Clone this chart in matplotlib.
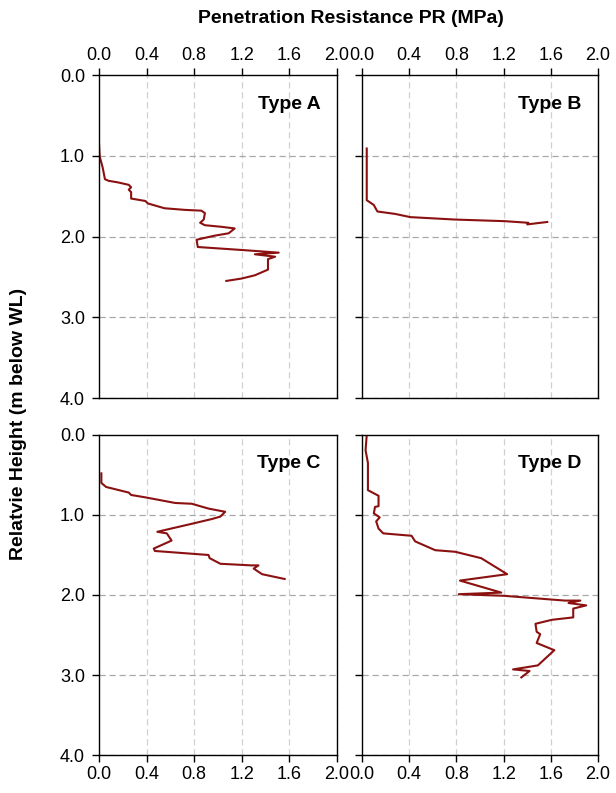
import matplotlib
matplotlib.use("Agg")
import matplotlib.pyplot as plt

plt.rcParams['font.family'] = ['Liberation Sans', 'DejaVu Sans']

# Penetration resistance (MPa) vs depth (m below WL)
a_pr = [0.00, 0.006, 0.03, 0.05, 0.08, 0.16, 0.25, 0.27, 0.25, 0.27, 0.27, 0.39, 0.41, 0.55,
        0.72, 0.86, 0.89, 0.88, 0.85, 0.89, 1.03, 1.14, 1.09, 0.97, 0.82, 0.83, 1.23, 1.51,
        1.31, 1.48, 1.42, 1.42, 1.31, 1.20, 1.07]
a_depth = [0.85, 1.01, 1.14, 1.29, 1.31, 1.33, 1.36, 1.39, 1.42, 1.45, 1.53, 1.56, 1.59, 1.65,
           1.67, 1.68, 1.71, 1.79, 1.83, 1.86, 1.88, 1.90, 1.96, 1.99, 2.04, 2.13, 2.17, 2.20,
           2.22, 2.25, 2.28, 2.41, 2.48, 2.52, 2.55]

b_pr = [0.04, 0.04, 0.04, 0.10, 0.13, 0.28, 0.41, 0.79, 1.21, 1.41, 1.40, 1.57]
b_depth = [0.91, 1.01, 1.55, 1.61, 1.69, 1.72, 1.76, 1.79, 1.81, 1.83, 1.85, 1.82]

c_pr = [0.02, 0.02, 0.06, 0.25, 0.27, 0.39, 0.64, 0.78, 0.92, 1.06, 1.02, 0.95, 0.78, 0.49,
        0.57, 0.61, 0.46, 0.47, 0.92, 0.93, 1.02, 1.28, 1.34, 1.30, 1.37, 1.56]
c_depth = [0.48, 0.60, 0.65, 0.72, 0.75, 0.78, 0.85, 0.86, 0.92, 0.96, 1.02, 1.05, 1.11, 1.21,
           1.23, 1.32, 1.42, 1.45, 1.50, 1.54, 1.61, 1.63, 1.63, 1.67, 1.74, 1.80]

d_pr = [0.04, 0.03, 0.05, 0.05, 0.14, 0.14, 0.11, 0.10, 0.15, 0.12, 0.14, 0.18, 0.42, 0.45,
        0.62, 0.79, 1.01, 1.23, 0.83, 1.18, 0.82, 1.20, 1.72, 1.85, 1.75, 1.90, 1.79, 1.79,
        1.61, 1.47, 1.48, 1.51, 1.48, 1.63, 1.49, 1.28, 1.42, 1.35]
d_depth = [0.00, 0.19, 0.35, 0.69, 0.76, 0.89, 0.90, 0.98, 1.03, 1.08, 1.17, 1.23, 1.26, 1.33,
           1.44, 1.46, 1.54, 1.74, 1.82, 1.97, 1.99, 2.01, 2.07, 2.07, 2.10, 2.13, 2.17, 2.28,
           2.31, 2.36, 2.46, 2.49, 2.60, 2.69, 2.88, 2.93, 2.95, 3.03]

panels = [
    ("Type A", a_pr, a_depth),
    ("Type B", b_pr, b_depth),
    ("Type C", c_pr, c_depth),
    ("Type D", d_pr, d_depth),
]

x_ticks = [0.0, 0.4, 0.8, 1.2, 1.6, 2.0]
y_ticks = [0.0, 1.0, 2.0, 3.0, 4.0]

fig = plt.figure(figsize=(6.16, 7.93), dpi=100)

# axes boxes in figure fraction
positions = [
    [0.1607, 0.4981, 0.3864, 0.4073],
    [0.5877, 0.4981, 0.3831, 0.4073],
    [0.1607, 0.0479, 0.3864, 0.4036],
    [0.5877, 0.0479, 0.3831, 0.4036],
]

line_color = "#8b1111"

for i, (name, pr, depth) in enumerate(panels):
    ax = fig.add_axes(positions[i])
    ax.plot(pr, depth, color=line_color, lw=1.5)
    ax.set_xlim(0, 2.0)
    ax.set_ylim(4.0, 0.0)
    ax.set_xticks(x_ticks)
    ax.set_yticks(y_ticks)
    ax.set_xticklabels([f"{v:.1f}" for v in x_ticks])
    ax.set_yticklabels([f"{v:.1f}" for v in y_ticks])

    # grid: light vertical, darker horizontal
    for xv in x_ticks[1:]:
        ax.axvline(xv, color="#d0d0d0", ls=(0, (5, 3)), lw=0.9, zorder=0)
    for yv in y_ticks[1:]:
        ax.axhline(yv, color="#a8a8a8", ls=(0, (5, 3)), lw=0.9, zorder=0)

    top = i < 2
    left = i % 2 == 0
    ax.tick_params(axis="x", direction="out", length=5, width=1, labelsize=13,
                   top=top, labeltop=top, bottom=not top, labelbottom=not top, pad=3)
    ax.tick_params(axis="y", direction="out", length=5, width=1, labelsize=13,
                   left=True, labelleft=left, right=False, pad=5)
    for sp in ax.spines.values():
        sp.set_linewidth(1.0)

    ax.text(0.93, 0.91, name, transform=ax.transAxes, ha="right", va="center",
            fontsize=14, fontweight="bold")

fig.text(0.57, 0.977, "Penetration Resistance PR (MPa)", ha="center", va="center",
         fontsize=14, fontweight="bold")
fig.text(0.03, 0.465, "Relatvie Height (m below WL)", ha="center", va="center",
         rotation=90, fontsize=14, fontweight="bold")

fig.savefig("out.png", dpi=100)
